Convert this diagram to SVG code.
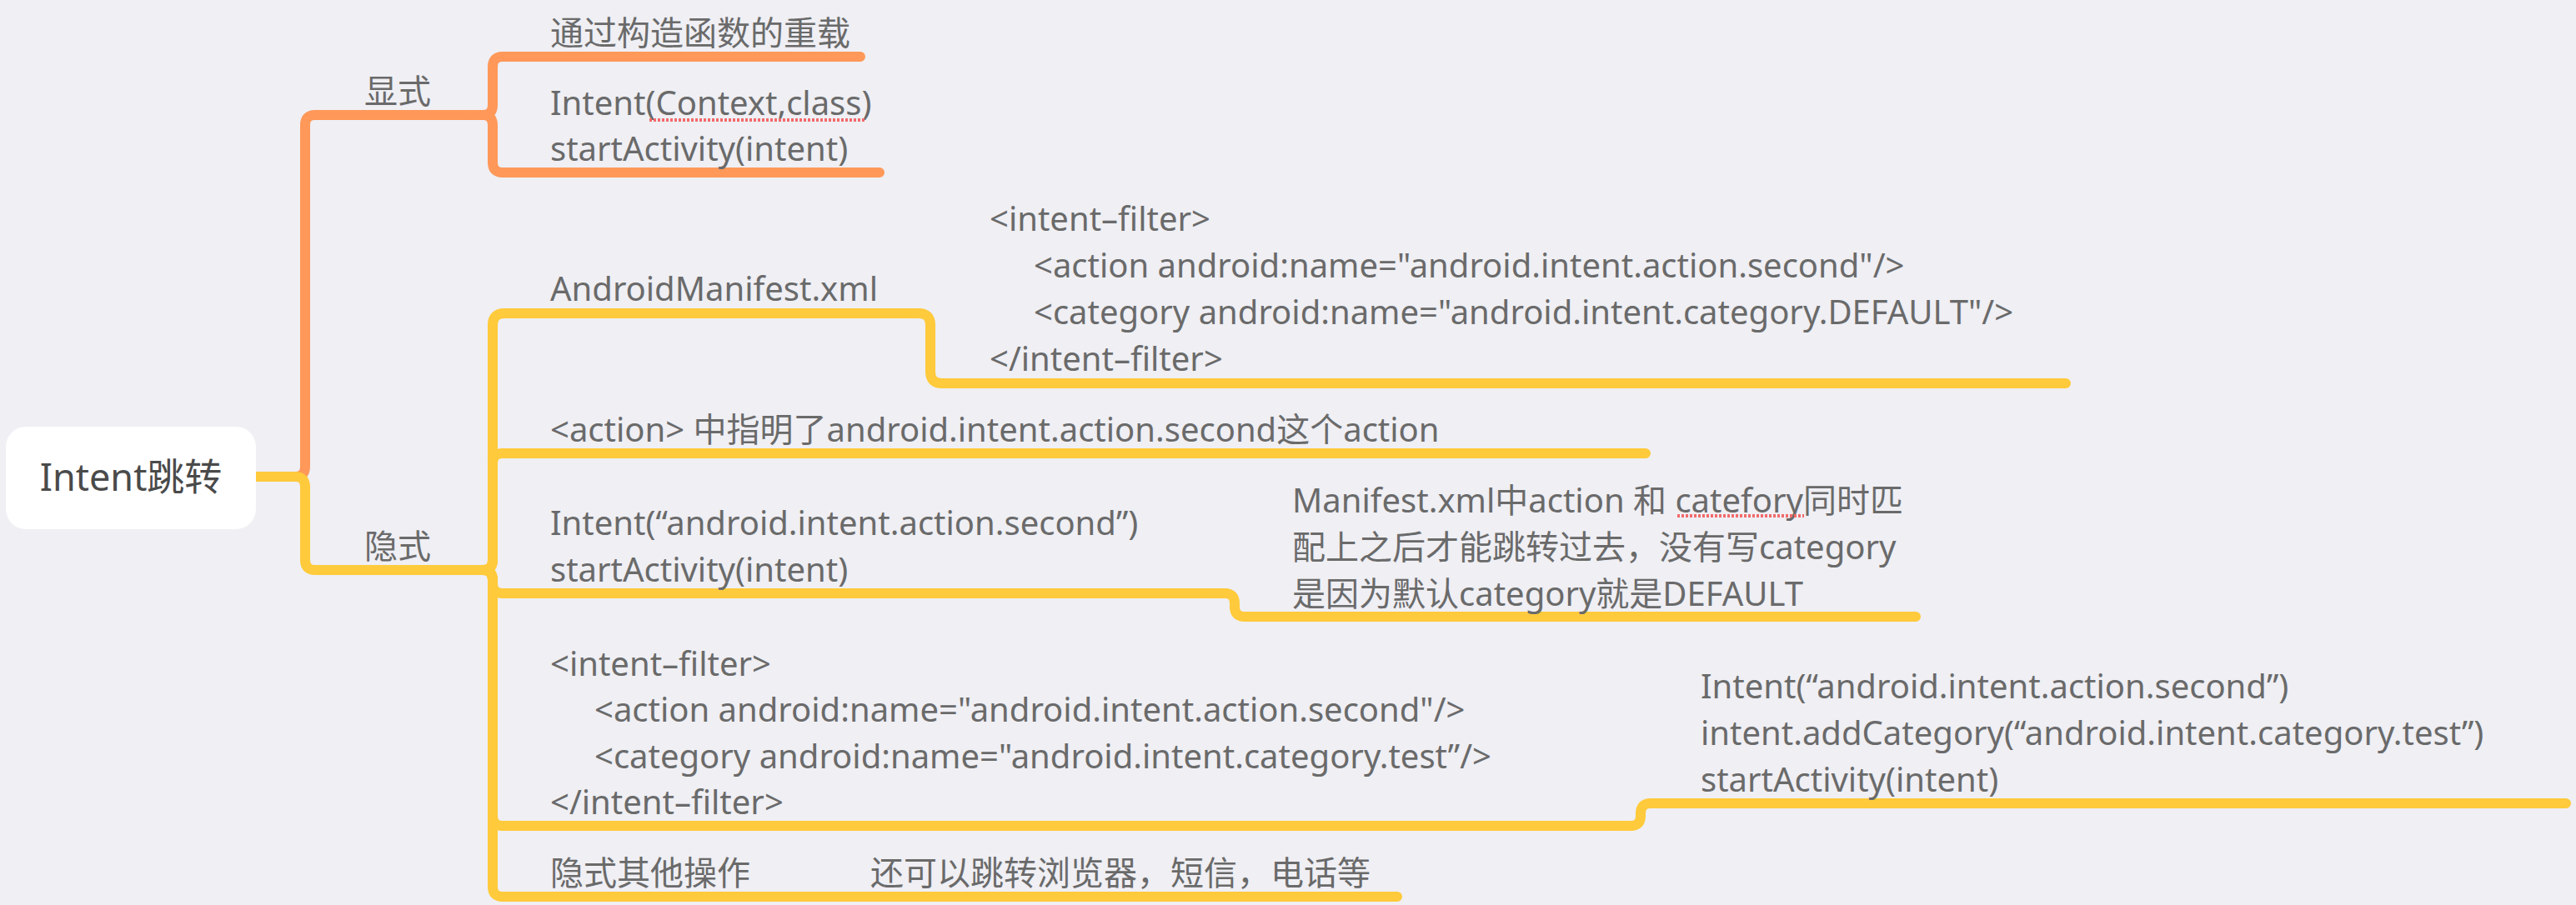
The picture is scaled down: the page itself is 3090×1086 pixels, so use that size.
<svg xmlns="http://www.w3.org/2000/svg" width="3090" height="1086" viewBox="0 0 3090 1086">
<style>
.bg{fill:#EFEFF4}
.t{font-family:"Noto Sans","Noto Sans CJK SC",sans-serif;font-size:40px;fill:#6a6a6a}
.root-t{font-family:"Noto Sans","Noto Sans CJK SC",sans-serif;font-size:45px;fill:#4a4a4a}
.c{fill:none;stroke-width:12;stroke-linecap:round;stroke-linejoin:round}
.o{stroke:#FF9859}
.y{stroke:#FFCA3B}
.sq{stroke:#F26B6B;stroke-width:4;stroke-dasharray:3 2;fill:none}
</style>
<rect class="bg" x="0" y="0" width="3090" height="1086"/>
<g id="connectors">
<path class="c o" d="M 307,572 H 354 Q 366,572 366,560 V 150 Q 366,138 378,138 H 585"/>
<path class="c o" d="M 560,138 H 579 Q 591,138 591,126 V 80 Q 591,68 603,68 H 1032"/>
<path class="c o" d="M 560,138 H 579 Q 591,138 591,150 V 195 Q 591,207 603,207 H 1055"/>
<path class="c y" d="M 307,572 H 354 Q 366,572 366,584 V 672 Q 366,684 378,684 H 585"/>
<path class="c y" d="M 560,684 H 579 Q 591,684 591,672 V 390 Q 591,376 605,376 H 1102"/>
<path class="c y" d="M 1090,376 H 1102 Q 1116,376 1116,390 V 446 Q 1116,460 1130,460 H 2478"/>
<path class="c y" d="M 560,684 H 579 Q 591,684 591,672 V 556 Q 591,544 603,544 H 1974"/>
<path class="c y" d="M 560,684 H 579 Q 591,684 591,696 V 700 Q 591,712 603,712 H 1469"/>
<path class="c y" d="M 1450,712 H 1469 Q 1481,712 1481,724 V 728 Q 1481,740 1493,740 H 2298"/>
<path class="c y" d="M 560,684 H 579 Q 591,684 591,696 V 979 Q 591,991 603,991 H 1956"/>
<path class="c y" d="M 1940,991 H 1956 Q 1968,991 1968,979 V 976 Q 1968,964 1980,964 H 3078"/>
<path class="c y" d="M 560,684 H 579 Q 591,684 591,696 V 1064 Q 591,1076 603,1076 H 1676"/>
</g>
<g id="root">
<rect x="7" y="512" width="300" height="123" rx="24" ry="24" fill="#FFFFFF"/>
<text class="root-t" x="157" y="589" text-anchor="middle">Intent跳转</text>
</g>
<g id="explicit">
<text class="t" x="437" y="124">显式</text>
</g>
<g id="implicit">
<text class="t" x="437" y="670">隐式</text>
</g>
<g id="ctor-overload">
<text class="t" x="660" y="54">通过构造函数的重载</text>
</g>
<g id="explicit-code">
<text class="t" x="660" y="138">Intent(Context,class)</text>
<text class="t" x="660" y="193">startActivity(intent)</text>
<line class="sq" x1="779" y1="144" x2="1037" y2="144"/>
</g>
<g id="manifest">
<text class="t" x="660" y="361">AndroidManifest.xml</text>
</g>
<g id="manifest-filter">
<text class="t" x="1187" y="277">&lt;intent–filter&gt;</text>
<text class="t" x="1240" y="333">&lt;action android:name="android.intent.action.second"/&gt;</text>
<text class="t" x="1240" y="389">&lt;category android:name="android.intent.category.DEFAULT"/&gt;</text>
<text class="t" x="1187" y="445">&lt;/intent–filter&gt;</text>
</g>
<g id="action-note">
<text class="t" x="660" y="530">&lt;action&gt; 中指明了android.intent.action.second这个action</text>
</g>
<g id="implicit-code">
<text class="t" x="660" y="642">Intent(“android.intent.action.second”)</text>
<text class="t" x="660" y="698">startActivity(intent)</text>
</g>
<g id="match-note">
<text class="t" x="1550" y="615">Manifest.xml中action 和 catefory同时匹</text>
<text class="t" x="1550" y="671">配上之后才能跳转过去，没有写category</text>
<text class="t" x="1550" y="727">是因为默认category就是DEFAULT</text>
<line class="sq" x1="2012" y1="619" x2="2164" y2="619"/>
</g>
<g id="test-filter">
<text class="t" x="660" y="811">&lt;intent–filter&gt;</text>
<text class="t" x="713" y="866">&lt;action android:name="android.intent.action.second"/&gt;</text>
<text class="t" x="713" y="922">&lt;category android:name="android.intent.category.test”/&gt;</text>
<text class="t" x="660" y="977">&lt;/intent–filter&gt;</text>
</g>
<g id="test-code">
<text class="t" x="2040" y="838">Intent(“android.intent.action.second”)</text>
<text class="t" x="2040" y="894">intent.addCategory(“android.intent.category.test”)</text>
<text class="t" x="2040" y="950">startActivity(intent)</text>
</g>
<g id="other-ops">
<text class="t" x="660" y="1062">隐式其他操作</text>
</g>
<g id="other-ops-note">
<text class="t" x="1044" y="1062">还可以跳转浏览器，短信，电话等</text>
</g>
</svg>
